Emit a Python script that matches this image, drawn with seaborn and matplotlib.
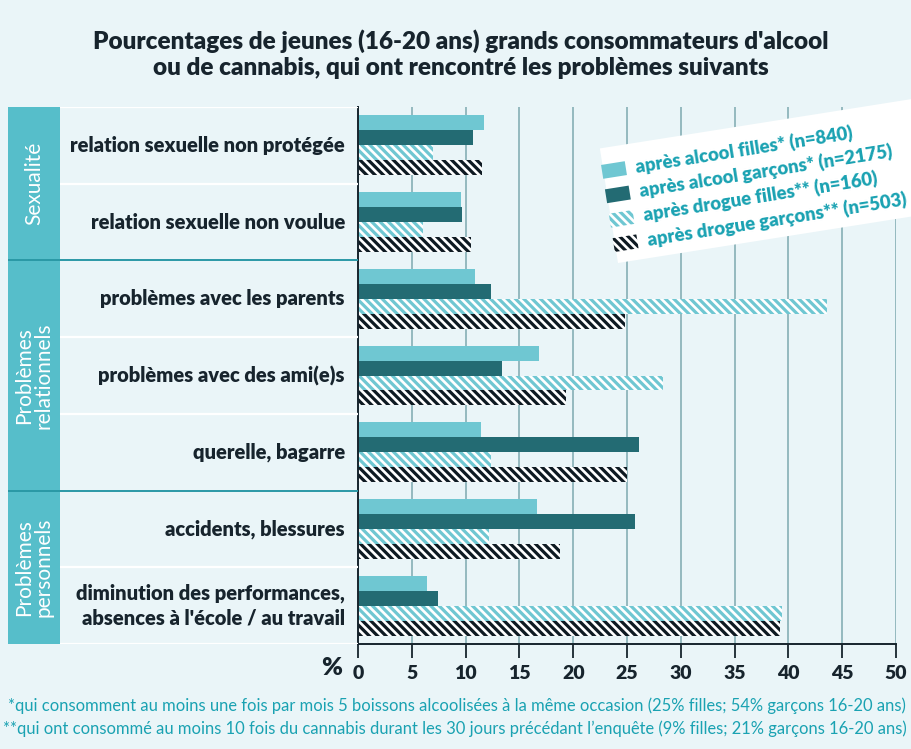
import matplotlib
matplotlib.use("Agg")
import matplotlib.pyplot as plt
from matplotlib.patches import Polygon
import numpy as np
import pandas as pd
import seaborn as sns

# données (%)
problemes = [
    "relation sexuelle non protégée",
    "relation sexuelle non voulue",
    "problèmes avec les parents",
    "problèmes avec des ami(e)s",
    "querelle, bagarre",
    "accidents, blessures",
    "diminution des performances,\nabsences à l'école / au travail",
]
groupes = [
    "après alcool filles* (n=840)",
    "après alcool garçons* (n=2175)",
    "après drogue filles** (n=160)",
    "après drogue garçons** (n=503)",
]
alcool_filles = [11.7, 9.6, 10.9, 16.8, 11.4, 16.6, 6.4]
alcool_garcons = [10.7, 9.7, 12.4, 13.4, 26.1, 25.7, 7.4]
drogue_filles = [7.0, 6.0, 43.6, 28.3, 12.4, 12.2, 39.4]
drogue_garcons = [11.5, 10.5, 24.8, 19.3, 25.0, 18.8, 39.2]
rubriques = ["Sexualité", "Problèmes\nrelationnels", "Problèmes\npersonnels"]
rubrique_centres = [0.5, 3.0, 5.5]
rubrique_limites = [1.5, 4.5]
xticks = list(range(0, 55, 5))

BG = "#EAF5F8"
LIGHT = "#6FC7D2"
DARK = "#236B73"
BLACK = "#0E1A22"
PANEL = "#56BECA"
GRID = "#8DB4BB"
TEXT = "#17242D"
TEAL_TXT = "#1AA2B2"
SEP = "#2A98A6"
HATCH = "\\\\\\\\"

sns.set_theme(style="white")
plt.rcParams["font.family"] = ["Lato", "DejaVu Sans"]
plt.rcParams["hatch.linewidth"] = 2.3

df = pd.DataFrame({
    "probleme": problemes * 4,
    "groupe": np.repeat(groupes, len(problemes)),
    "pct": alcool_filles + alcool_garcons + drogue_filles + drogue_garcons,
})

W, H = 911, 749
fig = plt.figure(figsize=(W / 100, H / 100), dpi=100, facecolor=BG)


def box(x0, y0, x1, y1):
    return [x0 / W, 1 - y1 / H, (x1 - x0) / W, (y1 - y0) / H]


ax = fig.add_axes(box(358, 107, 896, 644))
ax.set_facecolor(BG)
sns.barplot(data=df, x="pct", y="probleme", hue="groupe", orient="h",
            palette=[LIGHT, DARK, LIGHT, BLACK], width=0.78, saturation=1,
            errorbar=None, legend=False, ax=ax)
for i, cont in enumerate(ax.containers):
    for p in cont:
        p.set_linewidth(0)
        if i == 2:
            p.set_facecolor("white"); p.set_edgecolor(LIGHT); p.set_hatch(HATCH)
        elif i == 3:
            p.set_facecolor("white"); p.set_edgecolor(BLACK); p.set_hatch(HATCH)

ax.set_xlim(0, 50)
ax.set_ylim(6.5, -0.5)
ax.set_xticks(xticks, [str(t) for t in xticks], fontweight="heavy", color=TEXT)
ax.set_yticks([])
ax.set_xlabel("")
ax.set_ylabel("")
ax.xaxis.grid(True, color=GRID, lw=1.3)
ax.set_axisbelow(True)
ax.tick_params(axis="x", direction="out", length=10, width=1.3, color=TEXT,
               labelsize=14, pad=5, bottom=True)
for s in ["top", "right"]:
    ax.spines[s].set_visible(False)
for s in ["left", "bottom"]:
    ax.spines[s].set_color(TEXT)
    ax.spines[s].set_linewidth(1.4)
ax.text(-1.5, -0.045, "%", transform=ax.get_xaxis_transform(), ha="right",
        va="center", fontsize=18, fontweight="heavy", color=TEXT)

# colonne des libellés
lab = fig.add_axes(box(8, 107, 358, 644))
lab.set_xlim(0, 350)
lab.set_ylim(6.5, -0.5)
lab.axis("off")
lab.axvspan(0, 52, color=PANEL, lw=0)
for y in [-0.5, 0.5, 2.5, 3.5, 5.5, 6.5]:
    lab.plot([52, 350], [y, y], color="white", lw=1.6, solid_capstyle="butt")
for y in rubrique_limites:
    lab.plot([0, 350], [y, y], color=SEP, lw=1.4, solid_capstyle="butt")
for k, txt in enumerate(problemes):
    lab.text(337, k, txt, ha="right", va="center", fontsize=14.5,
             fontweight="heavy", color=TEXT, linespacing=1.3)
for yc, txt in zip(rubrique_centres, rubriques):
    lab.text(26, yc, txt, rotation=90, ha="center", va="center", fontsize=15,
             color="white", linespacing=0.95)

# titre et notes
fig.text(461 / W, 1 - 54 / H,
         "Pourcentages de jeunes (16-20 ans) grands consommateurs d'alcool\n"
         "ou de cannabis, qui ont rencontré les problèmes suivants",
         ha="center", va="center", fontsize=17.5, fontweight="heavy", color=TEXT,
         linespacing=1.2)
fig.text(8 / W, 1 - 706 / H,
         "*qui consomment au moins une fois par mois 5 boissons alcoolisées à la même "
         "occasion (25% filles; 54% garçons 16-20 ans)",
         ha="left", va="center", fontsize=11.9, color=TEAL_TXT)
fig.text(3 / W, 1 - 729 / H,
         "**qui ont consommé au moins 10 fois du cannabis durant les 30 jours "
         "précédant l’enquête (9% filles; 21% garçons 16-20 ans)",
         ha="left", va="center", fontsize=11.9, color=TEAL_TXT)

# légende inclinée
ov = fig.add_axes([0, 0, 1, 1], zorder=5)
ov.set_xlim(0, W)
ov.set_ylim(H, 0)
ov.axis("off")
ov.patch.set_alpha(0)
th = np.deg2rad(9)
u = np.array([np.cos(th), -np.sin(th)])
v = np.array([np.sin(th), np.cos(th)])
bl = np.array([618.0, 263.0])
ov.add_patch(Polygon([bl, bl + 360 * u, bl + 360 * u - 116 * v, bl - 116 * v],
                     closed=True, facecolor="white", edgecolor="none"))
o = np.array([614.0, 170.0])
styles = [(LIGHT, LIGHT, None), (DARK, DARK, None),
          ("white", LIGHT, HATCH), ("white", BLACK, HATCH)]
for i, (txt, (fc, ec, ht)) in enumerate(zip(groupes, styles)):
    c = o + i * 24.7 * v
    pts = [c - 12 * u - 7 * v, c + 12 * u - 7 * v, c + 12 * u + 7 * v, c - 12 * u + 7 * v]
    ov.add_patch(Polygon(pts, closed=True, facecolor=fc, edgecolor=ec,
                         hatch=ht, lw=0))
    t = c + 22 * u
    ov.text(t[0], t[1], txt, rotation=9, rotation_mode="anchor", ha="left",
            va="center", fontsize=13.3, fontweight="heavy", color=TEAL_TXT)

fig.savefig("out.png", dpi=100, facecolor=BG)
